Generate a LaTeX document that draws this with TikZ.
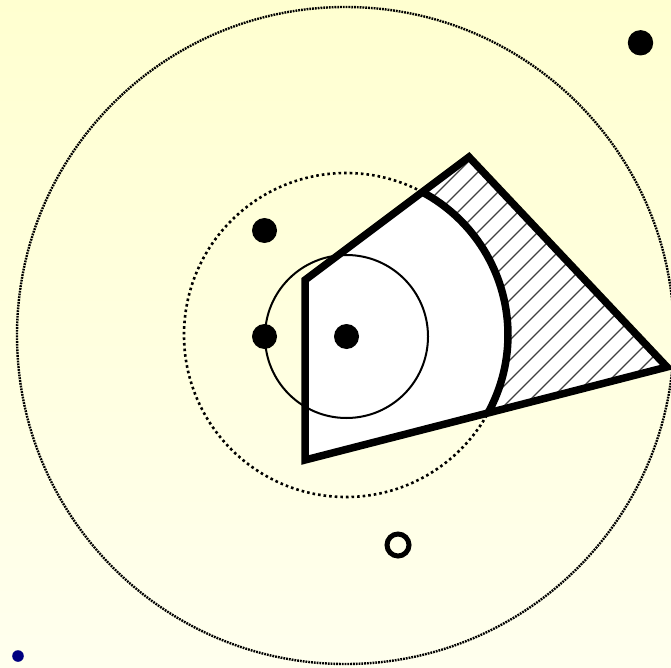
\documentclass[tikz,border=0pt]{standalone}
\usetikzlibrary{calc}
\definecolor{bgtop}{RGB}{255,255,208}
\definecolor{bgbot}{RGB}{255,255,238}
\definecolor{navydot}{RGB}{0,0,128}
\begin{document}
\begin{tikzpicture}[x=1pt,y=-1pt,
  outline/.style={line width=7.5pt, line join=miter},
  blackdot/.style={fill=black},
  bigdotted/.style={line width=2.4pt, dash pattern=on 1.8pt off 1pt},
  innerdotted/.style={line width=2.6pt, dash pattern=on 2.6pt off 3pt},
  hatchline/.style={line width=1.2pt, draw=black!75}]
\shade[top color=bgtop, bottom color=bgbot] (0,0) rectangle (671,668);
\useasboundingbox (0,0) rectangle (671,668);
\coordinate (C) at (346,335);
\coordinate (P1) at (305,280);
\coordinate (P2) at (469,157);
\coordinate (P3) at (667,367);
\coordinate (P4) at (305,460);
\coordinate (A) at ($(C)+(-61.8:162)$);
\coordinate (B) at ($(C)+(29.3:162)$);
% circles
\draw[bigdotted] (345.5,335.5) circle[radius=328.5];
\draw[innerdotted] (C) circle[radius=162];
% white inner region
\fill[white] (P1) -- (A) arc[start angle=-61.8, end angle=29.3, radius=162] -- (P4) -- cycle;
% hatched region
\fill[white] (A) -- (P2) -- (P3) -- (B) arc[start angle=29.3, end angle=-61.8, radius=162] -- cycle;
\begin{scope}
\clip (A) -- (P2) -- (P3) -- (B) arc[start angle=29.3, end angle=-61.8, radius=162] -- cycle;
\foreach \c in {630,650,...,1010} \draw[hatchline] (\c-120,120) -- (\c-450,450);
\end{scope}
% small circle
\draw[line width=2pt] (346.5,336.5) circle[radius=81.5];
% outline
\draw[outline] (P1) -- (P2) -- (P3) -- (P4) -- cycle;
\draw[line width=7.5pt] (A) arc[start angle=-61.8, end angle=29.3, radius=162];
% dots
\fill[blackdot] (264.5,230.5) circle[radius=12.5];
\fill[blackdot] (264.5,336.5) circle[radius=12.5];
\fill[blackdot] (346.5,336.5) circle[radius=12.5];
\fill[blackdot] (640.5,42.8) circle[radius=12.7];
\draw[line width=5pt] (398,545) circle[radius=11];
\fill[navydot] (18,656) circle[radius=5.8];
\end{tikzpicture}
\end{document}
